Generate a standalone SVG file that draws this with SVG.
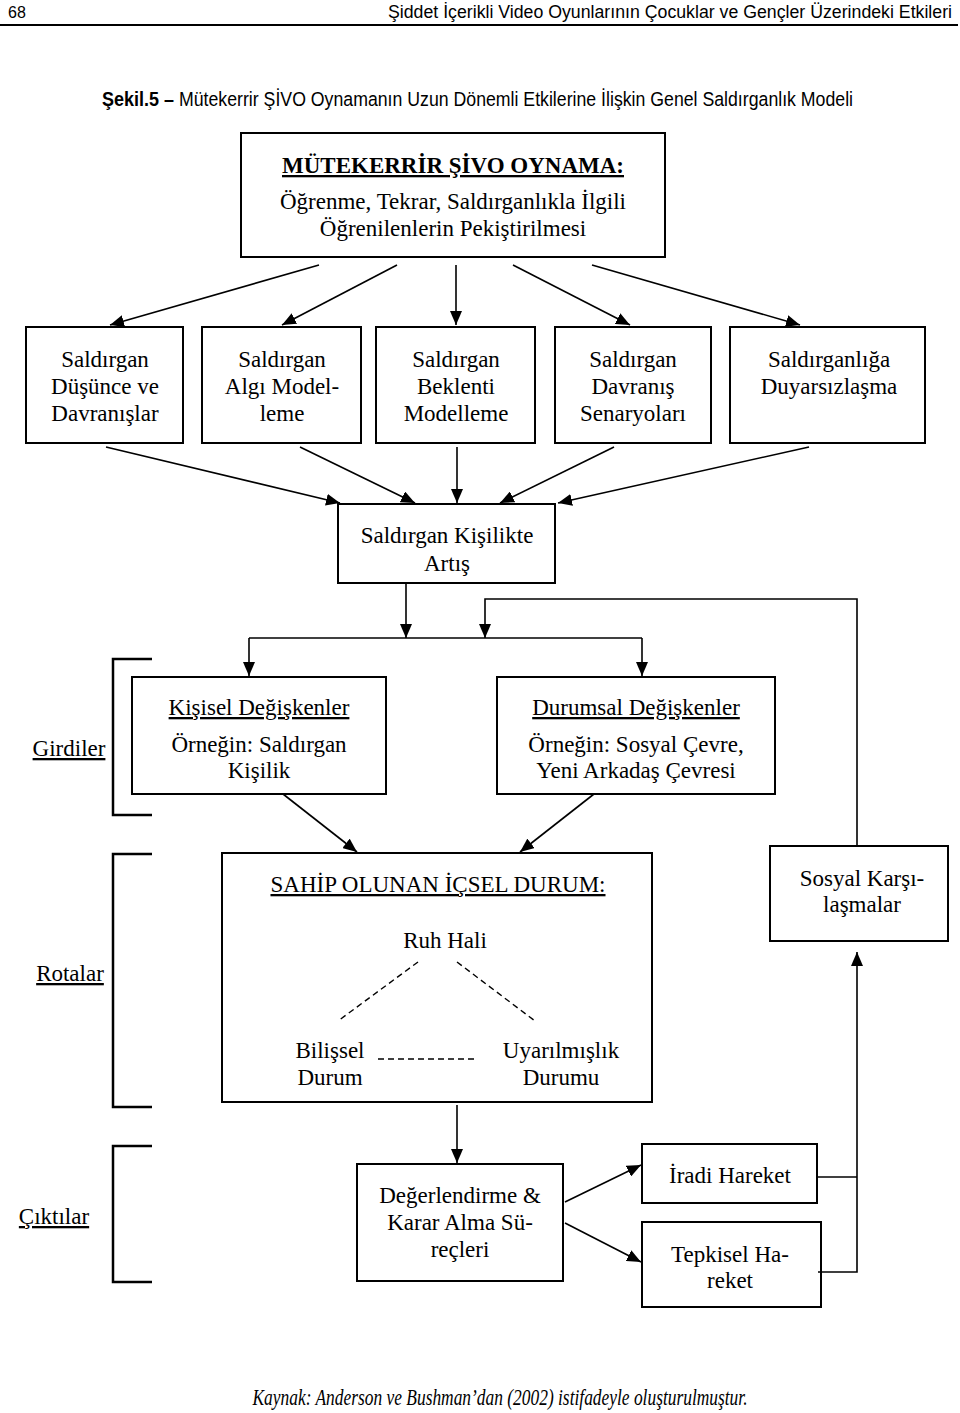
<svg xmlns="http://www.w3.org/2000/svg" width="960" height="1413" viewBox="0 0 960 1413">
<style>
.box{fill:none;stroke:#000;stroke-width:2}
.ln{fill:none;stroke:#000;stroke-width:1.6}
.ds{fill:none;stroke:#000;stroke-width:1.4;stroke-dasharray:6,4}
.br{fill:none;stroke:#000;stroke-width:2.5}
.t{font-family:"Liberation Serif","Times New Roman",serif;font-size:23px;text-anchor:middle;fill:#000}
.u{text-decoration:underline}
.s{font-family:"Liberation Sans",Arial,sans-serif;fill:#000}
</style>
<defs>
<marker id="ah" markerUnits="userSpaceOnUse" markerWidth="14" markerHeight="12" refX="14" refY="6" orient="auto">
<path d="M0,0 L14,6 L0,12 z" fill="#000"/>
</marker>
</defs>
<rect width="960" height="1413" fill="#fff"/>
<g id="header">
<text class="s" x="8" y="18" font-size="16">68</text>
<text class="s" x="388" y="18" font-size="17.5" textLength="564" lengthAdjust="spacingAndGlyphs">Şiddet İçerikli Video Oyunlarının Çocuklar ve Gençler Üzerindeki Etkileri</text>
<line x1="0" y1="25" x2="958" y2="25" stroke="#000" stroke-width="1.8"/>
<text class="s" x="102" y="106" font-size="20.5" font-weight="bold" textLength="72" lengthAdjust="spacingAndGlyphs">Şekil.5 –</text>
<text class="s" x="179" y="106" font-size="20.5" textLength="674" lengthAdjust="spacingAndGlyphs">Mütekerrir ŞİVO Oynamanın Uzun Dönemli Etkilerine İlişkin Genel Saldırganlık Modeli</text>
</g>
<g id="top">
<rect class="box" x="241" y="133" width="424" height="124"/>
<text class="t u" x="453" y="173" font-size="24" font-weight="bold">MÜTEKERRİR ŞİVO OYNAMA:</text>
<text class="t" x="453" y="209" font-size="25">Öğrenme, Tekrar, Saldırganlıkla İlgili</text>
<text class="t" x="453" y="236" font-size="25">Öğrenilenlerin Pekiştirilmesi</text>
</g>
<g id="n1">
<rect class="box" x="26" y="327" width="157" height="116"/>
<text class="t" x="105" y="367">Saldırgan</text>
<text class="t" x="105" y="394">Düşünce ve</text>
<text class="t" x="105" y="421">Davranışlar</text>
</g>
<g id="n2">
<rect class="box" x="202" y="327" width="159" height="116"/>
<text class="t" x="282" y="367">Saldırgan</text>
<text class="t" x="282" y="394">Algı Model-</text>
<text class="t" x="282" y="421">leme</text>
</g>
<g id="n3">
<rect class="box" x="376" y="327" width="159" height="116"/>
<text class="t" x="456" y="367">Saldırgan</text>
<text class="t" x="456" y="394">Beklenti</text>
<text class="t" x="456" y="421">Modelleme</text>
</g>
<g id="n4">
<rect class="box" x="555" y="327" width="156" height="116"/>
<text class="t" x="633" y="367">Saldırgan</text>
<text class="t" x="633" y="394">Davranış</text>
<text class="t" x="633" y="421">Senaryoları</text>
</g>
<g id="n5">
<rect class="box" x="730" y="327" width="195" height="116"/>
<text class="t" x="829" y="367">Saldırganlığa</text>
<text class="t" x="829" y="394">Duyarsızlaşma</text>
</g>
<g id="artis">
<rect class="box" x="338" y="504" width="217" height="79"/>
<text class="t" x="447" y="543">Saldırgan Kişilikte</text>
<text class="t" x="447" y="571">Artış</text>
</g>
<g id="kisisel">
<rect class="box" x="132" y="677" width="254" height="117"/>
<text class="t u" x="259" y="715">Kişisel Değişkenler</text>
<text class="t" x="259" y="752">Örneğin: Saldırgan</text>
<text class="t" x="259" y="778">Kişilik</text>
</g>
<g id="durumsal">
<rect class="box" x="497" y="677" width="278" height="117"/>
<text class="t u" x="636" y="715">Durumsal Değişkenler</text>
<text class="t" x="636" y="752">Örneğin: Sosyal Çevre,</text>
<text class="t" x="636" y="778">Yeni Arkadaş Çevresi</text>
</g>
<g id="icsel">
<rect class="box" x="222" y="853" width="430" height="249"/>
<text class="t u" x="438" y="892">SAHİP OLUNAN İÇSEL DURUM:</text>
<text class="t" x="445" y="948">Ruh Hali</text>
<text class="t" x="330" y="1058">Bilişsel</text>
<text class="t" x="330" y="1085">Durum</text>
<text class="t" x="561" y="1058">Uyarılmışlık</text>
<text class="t" x="561" y="1085">Durumu</text>
<line class="ds" x1="418" y1="962" x2="338" y2="1021"/>
<line class="ds" x1="457" y1="962" x2="535" y2="1021"/>
<line class="ds" x1="378" y1="1059" x2="476" y2="1059"/>
</g>
<g id="sosyal">
<rect class="box" x="770" y="846" width="178" height="95"/>
<text class="t" x="862" y="886">Sosyal Karşı-</text>
<text class="t" x="862" y="912">laşmalar</text>
</g>
<g id="deger">
<rect class="box" x="357" y="1164" width="206" height="117"/>
<text class="t" x="460" y="1203">Değerlendirme &amp;</text>
<text class="t" x="460" y="1230">Karar Alma Sü-</text>
<text class="t" x="460" y="1257">reçleri</text>
</g>
<g id="iradi">
<rect class="box" x="642" y="1144" width="175" height="59"/>
<text class="t" x="730" y="1183">İradi Hareket</text>
</g>
<g id="tepkisel">
<rect class="box" x="642" y="1222" width="179" height="85"/>
<text class="t" x="730" y="1262">Tepkisel Ha-</text>
<text class="t" x="730" y="1288">reket</text>
</g>
<g id="labels">
<path class="br" d="M152,659 H113 V815 H152"/>
<text class="t u" x="69" y="756">Girdiler</text>
<path class="br" d="M152,854 H113 V1107 H152"/>
<text class="t u" x="70" y="981">Rotalar</text>
<path class="br" d="M152,1146 H113 V1282 H152"/>
<text class="t u" x="54" y="1224">Çıktılar</text>
</g>
<g id="connectors">
<line class="ln" x1="319" y1="265" x2="110" y2="325" marker-end="url(#ah)"/>
<line class="ln" x1="397" y1="265" x2="282" y2="325" marker-end="url(#ah)"/>
<line class="ln" x1="456" y1="265" x2="456" y2="325" marker-end="url(#ah)"/>
<line class="ln" x1="513" y1="265" x2="630" y2="325" marker-end="url(#ah)"/>
<line class="ln" x1="592" y1="265" x2="800" y2="325" marker-end="url(#ah)"/>
<line class="ln" x1="106" y1="447" x2="340" y2="503" marker-end="url(#ah)"/>
<line class="ln" x1="300" y1="447" x2="415" y2="503" marker-end="url(#ah)"/>
<line class="ln" x1="457" y1="447" x2="457" y2="503" marker-end="url(#ah)"/>
<line class="ln" x1="614" y1="447" x2="500" y2="503" marker-end="url(#ah)"/>
<line class="ln" x1="809" y1="447" x2="558" y2="503" marker-end="url(#ah)"/>
<line class="ln" x1="406" y1="583" x2="406" y2="638" marker-end="url(#ah)"/>
<path class="ln" d="M857,846 V599 H485 V638" marker-end="url(#ah)"/>
<line class="ln" x1="249" y1="638" x2="642" y2="638"/>
<line class="ln" x1="249" y1="638" x2="249" y2="676" marker-end="url(#ah)"/>
<line class="ln" x1="642" y1="638" x2="642" y2="676" marker-end="url(#ah)"/>
<line class="ln" x1="283" y1="794" x2="357" y2="852" marker-end="url(#ah)"/>
<line class="ln" x1="594" y1="794" x2="520" y2="852" marker-end="url(#ah)"/>
<line class="ln" x1="457" y1="1105" x2="457" y2="1163" marker-end="url(#ah)"/>
<line class="ln" x1="565" y1="1202" x2="641" y2="1165" marker-end="url(#ah)"/>
<line class="ln" x1="565" y1="1223" x2="641" y2="1262" marker-end="url(#ah)"/>
<path class="ln" d="M817,1177 H857"/>
<path class="ln" d="M818,1272 H857 V952" marker-end="url(#ah)"/>
</g>
<g id="source">
<text class="t" x="500" y="1405" font-size="18" font-style="italic" textLength="495" lengthAdjust="spacingAndGlyphs">Kaynak: Anderson ve Bushman’dan (2002) istifadeyle oluşturulmuştur.</text>
</g>
</svg>
